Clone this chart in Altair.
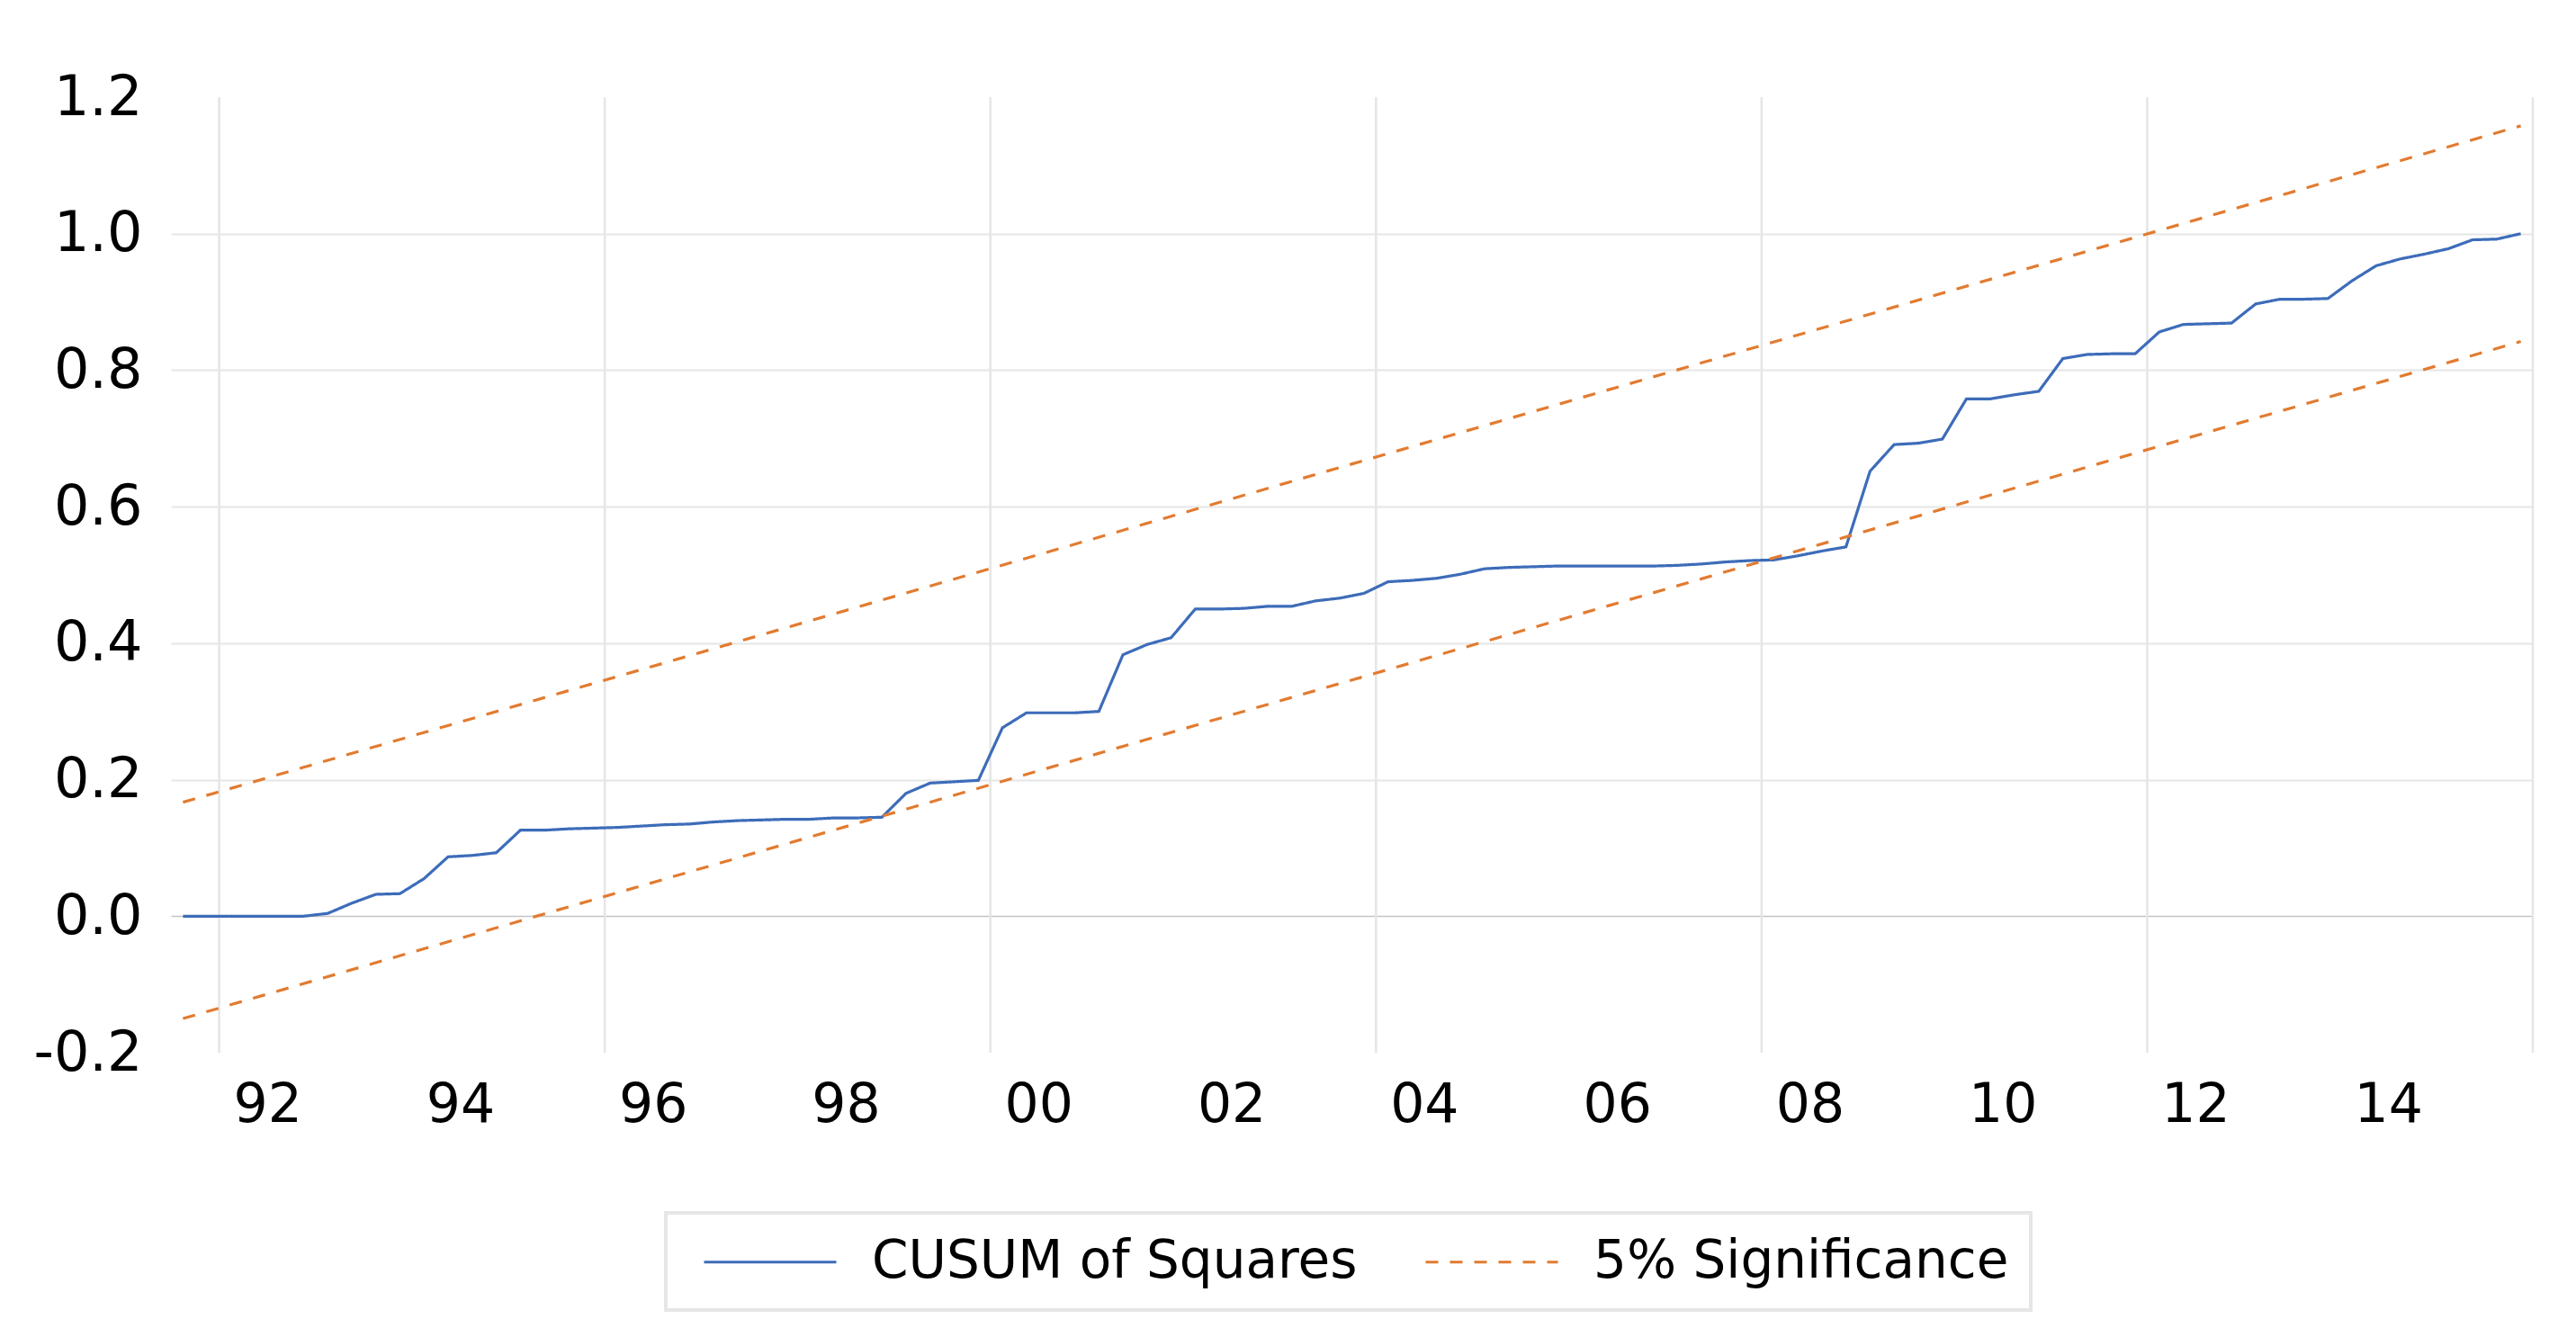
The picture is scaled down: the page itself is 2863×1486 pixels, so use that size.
import altair as alt
import pandas as pd

# ---------------- data ----------------
periods = pd.period_range("1991Q3", "2015Q4", freq="Q")

cusum_sq = [
    0.000, 0.000, 0.000, 0.000, 0.000, 0.000, 0.004, 0.019, 0.032, 0.033,
    0.055, 0.087, 0.089, 0.093, 0.126, 0.126, 0.128, 0.129, 0.130, 0.132,
    0.134, 0.135, 0.138, 0.140, 0.141, 0.142, 0.142, 0.144, 0.144, 0.145,
    0.180, 0.195, 0.197, 0.199, 0.276, 0.298, 0.298, 0.298, 0.300, 0.383,
    0.398, 0.408, 0.450, 0.450, 0.451, 0.454, 0.454, 0.462, 0.466, 0.473,
    0.490, 0.492, 0.495, 0.501, 0.509, 0.511, 0.512, 0.513, 0.513, 0.513,
    0.513, 0.513, 0.514, 0.516, 0.519, 0.521, 0.522, 0.528, 0.535, 0.541,
    0.652, 0.691, 0.693, 0.699, 0.758, 0.758, 0.764, 0.769, 0.817, 0.823,
    0.824, 0.824, 0.856, 0.867, 0.868, 0.869, 0.897, 0.904, 0.904, 0.905,
    0.931, 0.953, 0.963, 0.970, 0.978, 0.991, 0.992, 1.000,
]

sig_periods = ["1991Q3", "2015Q4"]
sig_upper = [0.167, 1.158]
sig_lower = [-0.150, 0.842]

x_label_years = [1992, 1994, 1996, 1998, 2000, 2002, 2004, 2006, 2008, 2010, 2012, 2014]
x_labels = ["92", "94", "96", "98", "00", "02", "04", "06", "08", "10", "12", "14"]
grid_years = [1992, 1996, 2000, 2004, 2008, 2012, 2016]
y_ticks = [-0.2, 0.0, 0.2, 0.4, 0.6, 0.8, 1.0, 1.2]

series_names = ["CUSUM of Squares", "5% Significance"]
series_colors = ["#3d6cb9", "#e27b30"]
series_dash = [[1, 0], [14, 13]]


def qpos(p):
    p = pd.Period(p, freq="Q")
    return p.year + (p.quarter - 1) / 4 + 0.125


rows = []
for p, v in zip(periods, cusum_sq):
    rows.append({"t": qpos(p), "value": v, "series": series_names[0], "line": "cusum"})
for p, v in zip(sig_periods, sig_upper):
    rows.append({"t": qpos(p), "value": v, "series": series_names[1], "line": "upper"})
for p, v in zip(sig_periods, sig_lower):
    rows.append({"t": qpos(p), "value": v, "series": series_names[1], "line": "lower"})
df = pd.DataFrame(rows)

grid_df = pd.DataFrame({"t": grid_years})

# label expression for mid-year two-digit labels
label_expr = "''"
for yr, lab in reversed(list(zip(x_label_years, x_labels))):
    label_expr = f"abs(datum.value - {yr + 0.5}) < 0.01 ? '{lab}' : ({label_expr})"

FONT = "DejaVu Sans"

x_scale = alt.Scale(domain=[1991.5, 2016.0], nice=False, zero=False)
x_axis = alt.Axis(
    values=[y + 0.5 for y in x_label_years],
    labelExpr=label_expr,
    grid=False,
    ticks=False,
    domain=False,
    labelFont=FONT,
    labelFontSize=60,
    labelColor="#000000",
    labelPadding=29,
    labelFlush=False,
    labelOverlap=False,
    title=None,
)

y_axis = alt.Axis(
    values=y_ticks,
    labelExpr="replace(format(datum.value, '.1f'), '\u2212', '-')",
    ticks=False,
    domain=False,
    grid=True,
    gridColor={"condition": {"test": "abs(datum.value) < 0.001", "value": "#c4c4c4"}, "value": "#e6e6e6"},
    gridOpacity={"condition": {"test": "datum.value < -0.1 || datum.value > 1.1", "value": 0}, "value": 1},
    gridWidth={"condition": {"test": "abs(datum.value) < 0.001", "value": 1.6}, "value": 2.2},
    labelFont=FONT,
    labelFontSize=62,
    labelColor="#000000",
    labelPadding=32,
    labelFlush=False,
    labelOverlap=False,
    title=None,
)

legend = alt.Legend(
    orient="none",
    legendX=550,
    legendY=1240,
    direction="horizontal",
    labelFont=FONT,
    labelFontSize=58,
    labelColor="#000000",
    labelLimit=2000,
    labelOffset=144,
    columnPadding=57,
    symbolType="M-0.414,0L4.655,0",
    symbolSize=3364,
    symbolStrokeWidth=3,
    padding=24,
    strokeColor="#e6e6e6",
)

vgrid = alt.Chart(grid_df).mark_rule(color="#e6e6e6", strokeWidth=2.6).encode(
    x=alt.X("t:Q", scale=x_scale, axis=x_axis)
)

lines = alt.Chart(df).mark_line(strokeWidth=3.2).encode(
    x=alt.X("t:Q", scale=x_scale, axis=x_axis),
    y=alt.Y("value:Q", scale=alt.Scale(domain=[-0.2, 1.2], nice=False, zero=False), axis=y_axis),
    color=alt.Color(
        "series:N",
        title=None,
        scale=alt.Scale(domain=series_names, range=series_colors),
        legend=legend,
    ),
    strokeDash=alt.StrokeDash(
        "series:N",
        title=None,
        scale=alt.Scale(domain=series_names, range=series_dash),
        legend=legend,
    ),
    detail="line:N",
)

chart = (
    alt.layer(vgrid, lines)
    .properties(
        width=2625,
        height=1062,
        autosize=alt.AutoSizeParams(type="none"),
        padding={"left": 182, "top": 100, "right": 40, "bottom": 300},
        background="#ffffff",
    )
    .configure_view(stroke=None)
    .configure_legend(strokeWidth=4)
)

chart.save("out.html", embed_options={"renderer": "svg", "actions": False})
